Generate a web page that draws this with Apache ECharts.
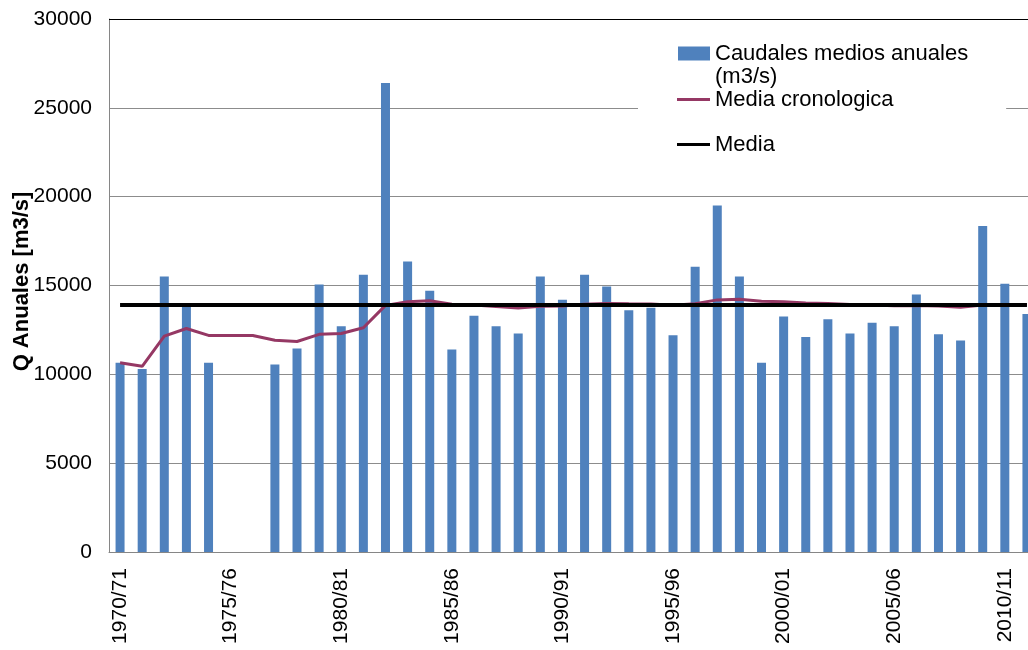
<!DOCTYPE html>
<html><head><meta charset="utf-8">
<script src="https://cdn.jsdelivr.net/npm/echarts@6/dist/echarts.min.js"></script>
<style>html,body{margin:0;padding:0;background:#fff}#c{width:1028px;height:650px}</style>
</head><body><div id="c"></div>
<script>
const categories = ['1970/71','1971/72','1972/73','1973/74','1974/75','1975/76','1976/77','1977/78','1978/79','1979/80',
  '1980/81','1981/82','1982/83','1983/84','1984/85','1985/86','1986/87','1987/88','1988/89','1989/90',
  '1990/91','1991/92','1992/93','1993/94','1994/95','1995/96','1996/97','1997/98','1998/99','1999/00',
  '2000/01','2001/02','2002/03','2003/04','2004/05','2005/06','2006/07','2007/08','2008/09','2009/10',
  '2010/11','2011/12'];
const caudales = [10650,10300,15500,13850,10650,null,null,10550,11450,15050,
  12700,15600,26400,16350,14700,11400,13300,12700,12300,15500,
  14200,15600,14950,13600,13750,12200,16050,19500,15500,10650,
  13250,12100,13100,12300,12900,12700,14500,12250,11900,18350,
  15100,13400];
const mediaCronologica = [10650,10450,12150,12580,12190,12190,12190,11920,11850,12250,
  12300,12620,13880,14090,14140,13940,13900,13820,13730,13830,
  13850,13940,13990,13970,13960,13890,13970,14190,14230,14110,
  14080,14010,13980,13930,13900,13860,13880,13840,13780,13900,
  13930,13920];
const MEDIA = 13900;
const mediaValues = categories.map(() => MEDIA);
const yMin = 0, yMax = 30000, yStep = 5000;

const FONT = 'Arial, "Liberation Sans", sans-serif';
const chart = echarts.init(document.getElementById('c'), null, {renderer: 'canvas'});
const option = {
  animation: false,
  textStyle: {fontFamily: FONT},
  grid: {left: 109, top: 19, width: 929, height: 533, containLabel: false, outerBoundsMode: 'none'},
  xAxis: {
    type: 'category', data: categories, boundaryGap: true,
    axisLine: {lineStyle: {color: '#868686', width: 1}},
    axisTick: {show: false},
    axisLabel: {interval: 4, rotate: 90, fontSize: 21, color: '#000', margin: 16, fontFamily: FONT},
    splitLine: {show: false}
  },
  yAxis: {
    type: 'value', min: yMin, max: yMax, interval: yStep,
    name: 'Q Anuales [m3/s]', nameLocation: 'middle', nameGap: 76, nameMoveOverlap: false,
    nameTextStyle: {fontSize: 22, fontWeight: 'bold', color: '#000', fontFamily: FONT, padding: [0, 0, 0, 8]},
    axisLine: {show: true, lineStyle: {color: '#868686', width: 1}},
    axisTick: {show: false},
    axisLabel: {fontSize: 21, color: '#000', margin: 17, fontFamily: FONT, formatter: v => String(v)},
    splitLine: {show: true, lineStyle: {color: '#8C8C8C', width: 1}}
  },
  legend: [
    {
      data: [{name: 'Caudales medios anuales (m3/s)', icon: 'rect'}],
      left: 638, top: 9, padding: [10, 38, 60, 40], backgroundColor: '#fff',
      itemWidth: 32, itemHeight: 14, selectedMode: false, z: 4,
      itemStyle: {borderWidth: 0},
      formatter: () => '\nCaudales medios anuales\n(m3/s)',
      textStyle: {fontSize: 22, lineHeight: 23, color: '#000', fontFamily: FONT}
    },
    {
      data: [{name: 'Media cronologica', icon: 'rect'}],
      left: 677, top: 88.5, padding: 0, itemWidth: 33, itemHeight: 3, selectedMode: false, z: 5,
      itemStyle: {borderWidth: 0},
      textStyle: {fontSize: 22, lineHeight: 22, color: '#000', fontFamily: FONT}
    },
    {
      data: [{name: 'Media', icon: 'rect'}],
      left: 677, top: 133.5, padding: 0, itemWidth: 33, itemHeight: 3, selectedMode: false, z: 5,
      itemStyle: {borderWidth: 0},
      textStyle: {fontSize: 22, lineHeight: 22, color: '#000', fontFamily: FONT}
    }
  ],
  series: [
    {
      name: 'Caudales medios anuales (m3/s)', type: 'bar', data: caudales, barWidth: 9,
      itemStyle: {color: '#4F81BD'}, z: 2, silent: true,
      markLine: {silent: true, symbol: 'none', label: {show: false}, animation: false,
        lineStyle: {color: '#000', width: 1, type: 'solid'}, data: [{yAxis: yMax}]}
    },
    {
      name: 'Media cronologica', type: 'line', data: mediaCronologica, symbol: 'none', silent: true,
      lineStyle: {color: '#953864', width: 3}, itemStyle: {color: '#953864'}, z: 3
    },
    {
      name: 'Media', type: 'line', data: mediaValues, symbol: 'none', silent: true,
      lineStyle: {color: '#000', width: 4}, itemStyle: {color: '#000'}, z: 4
    }
  ]
};
chart.setOption(option);
</script>
</body></html>
